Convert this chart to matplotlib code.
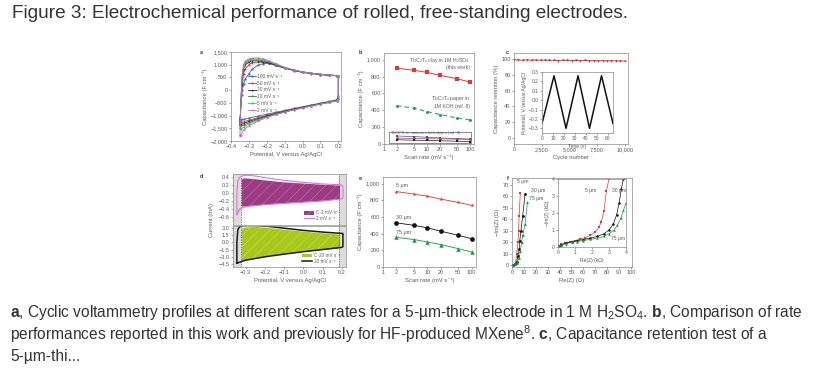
import numpy as np
import matplotlib.pyplot as plt
from matplotlib.lines import Line2D
from matplotlib.patches import Patch, Rectangle

plt.rcParams['font.family'] = ['Liberation Sans', 'DejaVu Sans']
plt.rcParams['mathtext.fontset'] = 'custom'
plt.rcParams['mathtext.rm'] = 'Liberation Sans'
plt.rcParams['mathtext.it'] = 'Liberation Sans:italic'
plt.rcParams['mathtext.bf'] = 'Liberation Sans:bold'
plt.rcParams['mathtext.default'] = 'regular'
plt.rcParams['hatch.linewidth'] = 0.3

W, H = 837, 370
GREY = '#5c5c5c'
FS = 4.0

# ---- panel a: CV at several scan rates (F cm-3 vs V)
a_rates = ['100 mV s⁻¹', '50 mV s⁻¹', '20 mV s⁻¹', '10 mV s⁻¹', '5 mV s⁻¹', '2 mV s⁻¹']
a_colors = ['#2a63d8', '#f02a2a', '#222222', '#178a3a', '#2fd040', '#e050e0']
a_marks = ['s', 'o', '^', 'v', 'D', '<']
a_E_up = [-0.35, -0.34, -0.33, -0.32, -0.30, -0.28, -0.25, -0.22, -0.19, -0.15,
          -0.10, -0.05, 0.0, 0.05, 0.10, 0.15, 0.19, 0.20]
a_E_down = [0.20, 0.19, 0.15, 0.10, 0.05, 0.0, -0.05, -0.10, -0.15, -0.20,
            -0.25, -0.30, -0.33, -0.345, -0.35]
a_up = [
    [-1150, -200, 250, 450, 650, 830, 980, 1040, 1050, 970, 860, 770, 700, 650, 610, 580, 560, 540],
    [-1250, 0, 650, 850, 1000, 1080, 1100, 1090, 1060, 980, 870, 780, 705, 655, 615, 585, 565, 550],
    [-1350, 200, 850, 1000, 1100, 1150, 1150, 1120, 1080, 990, 875, 785, 710, 660, 620, 590, 570, 555],
    [-1400, 300, 900, 1050, 1150, 1190, 1190, 1160, 1110, 1010, 885, 790, 715, 662, 622, 592, 572, 556],
    [-1500, 400, 950, 1100, 1190, 1220, 1220, 1190, 1130, 1020, 890, 795, 718, 665, 625, 595, 575, 558],
    [-1800, 500, 1000, 1150, 1230, 1260, 1270, 1240, 1160, 1040, 900, 800, 720, 668, 628, 598, 578, 560],
]
a_down = [
    [-250, -380, -440, -510, -580, -650, -720, -800, -870, -950, -1020, -1100, -1150, -1160, -1150],
    [-300, -400, -460, -530, -600, -670, -745, -825, -900, -990, -1080, -1180, -1250, -1270, -1250],
    [-320, -410, -470, -540, -610, -680, -760, -840, -920, -1020, -1120, -1230, -1320, -1350, -1350],
    [-330, -415, -475, -545, -615, -690, -770, -850, -935, -1040, -1150, -1280, -1380, -1420, -1400],
    [-340, -420, -480, -550, -620, -695, -775, -860, -950, -1060, -1180, -1330, -1460, -1520, -1500],
    [-350, -425, -485, -555, -625, -700, -780, -870, -965, -1080, -1220, -1400, -1580, -1750, -1800],
]
a_yticks = [1500, 1000, 500, 0, -500, -1000, -1500, -2000]
a_ylabels = ['1,500', '1,000', '500', '0', '−500', '−1,000', '−1,500', '−2,000']
cv_xticks = [-0.4, -0.3, -0.2, -0.1, 0.0, 0.1, 0.2]
cv_xlabels = ['−0.4', '−0.3', '−0.2', '−0.1', '0.0', '0.1', '0.2']

# ---- panel b / e: rate performance
rates = [2, 5, 10, 20, 50, 100]
b_clay = [900, 875, 850, 815, 775, 735]
b_paper = [455, 425, 385, 350, 310, 285]
b_ref_blue = [95, 88, 80, 72, 65, 58]
b_ref_red = [70, 66, 62, 60, 58, 55]
b_ref_black = [50, 45, 42, 38, 33, 28]
e_5um = [905, 875, 850, 815, 775, 740]
e_30um = [530, 500, 470, 430, 380, 340]
e_75um = [355, 330, 300, 270, 220, 180]
cap_yticks = [0, 200, 400, 600, 800, 1000]
cap_ylabels = ['0', '200', '400', '600', '800', '1,000']
rate_xticks = [1, 2, 5, 10, 20, 50, 100]

# ---- panel c: retention + inset GCD
c_cycles = [0, 400, 800, 1200, 1600, 2000, 2400, 2800, 3200, 3600, 4000, 4400, 4800,
            5200, 5600, 6000, 6400, 6800, 7200, 7600, 8000, 8400, 8800, 9200, 9600, 10000]
c_retention = [99.5, 99.0, 98.8, 99.2, 98.6, 99.0, 98.7, 98.9, 98.5, 98.8, 98.4, 98.7, 98.5,
               98.3, 98.6, 98.2, 98.5, 98.1, 98.4, 98.0, 98.3, 97.9, 98.2, 97.8, 98.0, 97.6]
c_xticks = [0, 2500, 5000, 7500, 10000]
c_xlabels = ['0', '2,500', '5,000', '7,500', '10,000']
gcd_t = [0, 11, 22, 33, 43.5, 54.5, 65]
gcd_V = [-0.25, 0.26, -0.30, 0.26, -0.30, 0.26, -0.25]

# ---- panel d: capacitive contribution
d_fill_E = [-0.32, -0.30, -0.25, -0.20, -0.10, 0.0, 0.10, 0.19]
d_fill2_top = [0.36, 0.37, 0.35, 0.32, 0.27, 0.24, 0.21, 0.19]
d_fill2_bot = [-0.34, -0.33, -0.31, -0.29, -0.25, -0.22, -0.19, -0.16]
d_cv2_E = [-0.345, -0.345, -0.34, -0.33, -0.31, -0.29, -0.25, -0.20, -0.10, 0.0, 0.10, 0.19,
           0.20, 0.205, 0.205, 0.20, 0.10, 0.0, -0.10, -0.20, -0.30, -0.33, -0.345]
d_cv2_I = [-0.54, 0.0, 0.30, 0.40, 0.44, 0.45, 0.43, 0.39, 0.32, 0.27, 0.23, 0.21,
           0.20, 0.15, -0.12, -0.14, -0.20, -0.23, -0.26, -0.29, -0.34, -0.40, -0.54]
d_fill20_top = [2.75, 3.05, 3.15, 3.05, 2.6, 2.2, 1.85, 1.6]
d_fill20_bot = [-3.85, -3.6, -3.2, -2.9, -2.4, -2.0, -1.6, -1.25]
d_cv20_E = [-0.345, -0.345, -0.34, -0.33, -0.31, -0.28, -0.25, -0.20, -0.10, 0.0, 0.10, 0.19,
            0.205, 0.205, 0.20, 0.10, 0.0, -0.10, -0.20, -0.30, -0.33, -0.345]
d_cv20_I = [-4.3, 0.0, 2.6, 3.2, 3.45, 3.55, 3.5, 3.35, 2.9, 2.45, 2.1, 1.85,
            1.8, -0.9, -1.05, -1.5, -1.95, -2.45, -3.0, -3.7, -4.1, -4.3]
d_top_ticks = [0.4, 0.2, 0.0, -0.2, -0.4, -0.6]
d_top_labels = ['0.4', '0.2', '0.0', '−0.2', '−0.4', '−0.6']
d_bot_ticks = [3.0, 1.5, 0.0, -1.5, -3.0, -4.5]
d_bot_labels = ['3.0', '1.5', '0.0', '−1.5', '−3.0', '−4.5']

# ---- panel f: Nyquist
f_re_5 = [0.5, 1.5, 3.0, 4.0, 5.0, 5.5, 6.0, 7.0]
f_im_5 = [0.2, 0.6, 2.0, 10, 20, 30, 43, 63]
f_re_30 = [1.0, 2.5, 4.0, 5.0, 6.0, 6.5, 7.5, 9.0, 11.0]
f_im_30 = [0.3, 1.0, 3.0, 8.0, 14, 21, 30, 43, 62]
f_re_75 = [1.0, 2.5, 4.0, 6.0, 7.0, 8.0, 9.0, 11.0, 13.0]
f_im_75 = [0.2, 0.8, 2.0, 6.0, 12, 20, 26, 36, 55]
fi_re_5 = [0.05, 0.2, 0.4, 0.7, 1.0, 1.3, 1.6, 1.9, 2.2, 2.4, 2.55, 2.7, 2.85, 3.0]
fi_im_5 = [0.05, 0.15, 0.22, 0.3, 0.38, 0.46, 0.55, 0.68, 0.9, 1.15, 1.5, 2.1, 3.3, 4.0]
fi_re_30 = [0.05, 0.2, 0.5, 0.8, 1.1, 1.5, 1.9, 2.3, 2.7, 3.0, 3.25, 3.45, 3.6, 3.72, 3.85]
fi_im_30 = [0.05, 0.14, 0.24, 0.31, 0.37, 0.44, 0.52, 0.62, 0.78, 1.0, 1.35, 1.9, 2.6, 3.4, 4.0]
fi_re_75 = [0.05, 0.2, 0.5, 0.8, 1.1, 1.5, 1.9, 2.3, 2.7, 3.0, 3.3, 3.5, 3.7, 3.85, 4.0]
fi_im_75 = [0.04, 0.12, 0.2, 0.27, 0.32, 0.38, 0.45, 0.52, 0.62, 0.78, 1.0, 1.3, 1.7, 2.15, 2.6]

fig = plt.figure(figsize=(W / 100, H / 100), dpi=100)


def px(l, t, r, b):
    return [l / W, 1 - b / H, (r - l) / W, (b - t) / H]


def style(ax, fs=FS):
    for s in ax.spines.values():
        s.set_color('#8a8a8a')
        s.set_linewidth(0.5)
    ax.tick_params(labelsize=fs, colors=GREY, length=1.5, width=0.4, pad=1)


def labels(ax, xl, yl, fs=FS + 0.2):
    ax.set_xlabel(xl, fontsize=fs, color=GREY, labelpad=1.5)
    ax.set_ylabel(yl, fontsize=fs, color=GREY, labelpad=1.5)


def grey_legend(leg):
    for t in leg.get_texts():
        t.set_color(GREY)


# ---------- a
ax = fig.add_axes(px(231, 52, 341, 141))
style(ax)
for i in range(len(a_rates)):
    ax.plot(a_E_up + a_E_down, a_up[i] + a_down[i], color=a_colors[i], marker=a_marks[i],
            ms=1.4, lw=0.6, mew=0, label=a_rates[i])
ax.set_xlim(-0.4, 0.215)
ax.set_ylim(-2000, 1500)
ax.set_yticks(a_yticks, a_ylabels)
ax.set_xticks(cv_xticks, cv_xlabels)
labels(ax, 'Potential, V versus Ag/AgCl', 'Capacitance (F cm⁻³)')
grey_legend(ax.legend(loc='upper left', bbox_to_anchor=(0.13, 0.78), frameon=False, fontsize=3.5,
                      handlelength=1.6, labelspacing=0.35, handletextpad=0.4, borderpad=0))

# ---------- b
ax = fig.add_axes(px(384, 53, 474, 144))
style(ax)
ax.set_xscale('log')
ax.plot(rates, b_clay, color='#f03030', marker='s', ms=2.2, lw=0.7, mew=0)
ax.plot(rates, b_paper, color='#1faa50', marker='o', ms=2.2, lw=0.8, ls=(0, (4, 3)), mew=0)
ax.plot(rates, b_ref_blue, color='#2050d0', marker='s', ms=2, lw=0.5, mew=0)
ax.plot(rates, b_ref_red, color='#e03030', marker='o', ms=2, lw=0.5, mew=0)
ax.plot(rates, b_ref_black, color='#202020', marker='s', ms=2, lw=0.5, mew=0)
ax.add_patch(Rectangle((1.32, 8), 108 - 1.32, 135, fill=False, lw=0.4, ec='#333333'))
ax.text(100, 1050, 'Ti$_3$C$_2$T$_x$ clay in 1M H$_2$SO$_4$\n(this work)', ha='right', va='top',
        fontsize=3.7, color=GREY, linespacing=1.15)
ax.text(100, 590, 'Ti$_3$C$_2$T$_x$ paper in\n1M KOH (ref. 8)', ha='right', va='top',
        fontsize=3.7, color=GREY, linespacing=1.15)
ax.text(1.4, 182, 'Ti$_3$C$_2$T$_x$ in various electrolytes (ref. 8)', ha='left', va='top',
        fontsize=3.1, color=GREY)
ax.set_xlim(1, 125)
ax.set_ylim(0, 1080)
ax.set_yticks(cap_yticks, cap_ylabels)
ax.set_xticks(rate_xticks, [str(v) for v in rate_xticks])
ax.minorticks_off()
labels(ax, 'Scan rate (mV s⁻¹)', 'Capacitance (F cm⁻³)')

# ---------- c
ax = fig.add_axes(px(514, 53, 628, 144))
style(ax)
ax.plot(c_cycles, c_retention, color='#f02020', marker='v', ms=1.8, lw=0.6, mew=0)
ax.set_xlim(0, 10300)
ax.set_ylim(-8, 108)
ax.set_yticks([0, 20, 40, 60, 80, 100])
ax.set_xticks(c_xticks, c_xlabels)
labels(ax, 'Cycle number', 'Capacitance retention (%)')
ax = fig.add_axes(px(542, 72, 613, 133))
style(ax, 3.5)
ax.plot(gcd_t, gcd_V, color='#111111', lw=1.1)
ax.set_xlim(0, 65)
ax.set_ylim(-0.35, 0.3)
ax.set_xticks([0, 10, 20, 30, 40, 50, 60])
ax.set_yticks([-0.3, -0.2, -0.1, 0.0, 0.1, 0.2, 0.3],
              ['−0.3', '−0.2', '−0.1', '0.0', '0.1', '0.2', '0.3'])
labels(ax, 'Time (s)', 'Potential, V versus Ag/AgCl', 3.6)

# ---------- d
axt = fig.add_axes(px(233, 174, 346, 225))
axb = fig.add_axes(px(233, 226, 346, 267))
for ax in (axt, axb):
    style(ax)
    ax.axvspan(-0.37, -0.325, color='#dcdcdc', lw=0, zorder=0)
    ax.axvspan(0.187, 0.23, color='#dcdcdc', lw=0, zorder=0)
    ax.axvline(-0.325, color='#555555', lw=0.5, ls=(0, (2, 1.5)))
    ax.axvline(0.187, color='#555555', lw=0.5, ls=(0, (2, 1.5)))
    ax.set_xlim(-0.365, 0.221)
axt.fill_between(d_fill_E, d_fill2_bot, d_fill2_top, facecolor='#9c3a83', edgecolor='#c98ab8',
                 hatch='///', lw=0)
axt.plot(d_cv2_E, d_cv2_I, color='#e070d8', lw=0.8)
axt.set_ylim(-0.8, 0.48)
axt.set_yticks(d_top_ticks, d_top_labels)
axt.set_xticks([])
h2 = [Patch(facecolor='#9c3a83', edgecolor='#c98ab8', hatch='///', lw=0),
      Line2D([], [], color='#e070d8', lw=0.8)]
grey_legend(axt.legend(h2, ['C-2 mV s⁻¹', '2 mV s⁻¹'], loc='lower right',
                       bbox_to_anchor=(0.97, 0.03), frameon=False, fontsize=3.4,
                       handlelength=2.2, handleheight=0.9, labelspacing=0.15,
                       handletextpad=0.4, borderpad=0))
axb.fill_between(d_fill_E, d_fill20_bot, d_fill20_top, facecolor='#a8c81c', edgecolor='#cfe27a',
                 hatch='///', lw=0)
axb.plot(d_cv20_E, d_cv20_I, color='#1a1a1a', lw=1.1)
axb.set_ylim(-5.1, 3.35)
axb.set_yticks(d_bot_ticks, d_bot_labels)
axb.set_xticks(cv_xticks[1:], cv_xlabels[1:])
axb.set_xlabel('Potential, V versus Ag/AgCl', fontsize=FS + 0.2, color=GREY, labelpad=1.5)
h20 = [Patch(facecolor='#a8c81c', edgecolor='#cfe27a', hatch='///', lw=0),
       Line2D([], [], color='#1a1a1a', lw=1.1)]
grey_legend(axb.legend(h20, ['C-20 mV s⁻¹', '20 mV s⁻¹'], loc='lower right',
                       bbox_to_anchor=(0.97, 0.02), frameon=False, fontsize=3.4,
                       handlelength=2.2, handleheight=0.9, labelspacing=0.15,
                       handletextpad=0.4, borderpad=0))
fig.text(212 / W, 1 - 220 / H, 'Current (mA)', rotation=90, fontsize=FS + 0.2, color=GREY,
         ha='center', va='center')

# ---------- e
ax = fig.add_axes(px(383, 177, 476, 267))
style(ax)
ax.set_xscale('log')
ax.plot(rates, e_5um, color='#f03030', marker='*', ms=3, lw=0.6, mew=0)
ax.plot(rates, e_30um, color='#111111', marker='o', ms=3.4, lw=0.6, mew=0)
ax.plot(rates, e_75um, color='#139a3c', marker='^', ms=3.2, lw=0.6, mew=0)
ax.text(2, 950, '5 μm', fontsize=3.9, color=GREY, va='bottom')
ax.text(2, 570, '30 μm', fontsize=3.9, color=GREY, va='bottom')
ax.text(2, 380, '75 μm', fontsize=3.9, color=GREY, va='bottom')
ax.set_xlim(1, 125)
ax.set_ylim(0, 1080)
ax.set_yticks(cap_yticks, cap_ylabels)
ax.set_xticks(rate_xticks, [str(v) for v in rate_xticks])
ax.minorticks_off()
labels(ax, 'Scan rate (mV s⁻¹)', 'Capacitance (F cm⁻³)')

# ---------- f
ax = fig.add_axes(px(512, 178, 632, 267))
style(ax)
ax.plot(f_re_5, f_im_5, color='#f03030', marker='s', ms=1.8, lw=0.5, mew=0)
ax.plot(f_re_30, f_im_30, color='#111111', marker='o', ms=2, lw=0.5, mew=0)
ax.plot(f_re_75, f_im_75, color='#139a3c', marker='^', ms=2, lw=0.5, mew=0)
ax.text(4, 73, '5 μm', fontsize=3.7, color=GREY, va='center')
ax.text(16, 65, '30 μm', fontsize=3.7, color=GREY, va='center')
ax.text(14, 58, '75 μm', fontsize=3.7, color=GREY, va='center')
ax.set_xlim(0, 101)
ax.set_ylim(-1.5, 76)
ax.set_xticks(range(0, 101, 10))
ax.set_yticks(range(0, 71, 10))
labels(ax, 'Re(Z) (Ω)', '−Im(Z) (Ω)')
ax = fig.add_axes(px(558, 179, 626, 247))
style(ax, 3.6)
ax.plot(fi_re_5, fi_im_5, color='#f03030', marker='s', ms=1.6, lw=0.5, mew=0)
ax.plot(fi_re_30, fi_im_30, color='#111111', marker='o', ms=1.8, lw=0.5, mew=0)
ax.plot(fi_re_75, fi_im_75, color='#139a3c', marker='^', ms=1.8, lw=0.5, mew=0)
ax.text(2.25, 3.35, '5 μm', fontsize=3.6, color=GREY, va='center', ha='right')
ax.text(3.15, 3.3, '30 μm', fontsize=3.6, color=GREY, va='center')
ax.text(3.1, 0.5, '75 μm', fontsize=3.6, color=GREY, va='center')
ax.set_xlim(0, 4)
ax.set_ylim(0, 4)
ax.set_xticks([0, 1, 2, 3, 4])
ax.set_yticks([0, 1, 2, 3, 4])
labels(ax, 'Re(Z) (kΩ)', '−Im(Z) (kΩ)', 3.6)

# panel letters
for letter, x, y in [('a', 201, 52), ('b', 360, 52), ('c', 507, 52),
                     ('d', 201, 176), ('e', 360, 178), ('f', 508, 178)]:
    fig.text(x / W, 1 - y / H, letter, fontsize=4, weight='bold', color='#333333',
             ha='center', va='center')

# page title and caption
fig.text(12 / W, 1 - 14 / H, 'Figure 3: Electrochemical performance of rolled, free-standing electrodes.',
         fontsize=13.7, color='#333333', va='center')
caption = [
    r'$\mathbf{a}$, Cyclic voltammetry profiles at different scan rates for a 5-µm-thick electrode '
    r'in 1 M H$_2$SO$_4$. $\mathbf{b}$, Comparison of rate',
    r'performances reported in this work and previously for HF-produced MXene$^8$. '
    r'$\mathbf{c}$, Capacitance retention test of a',
    '5-µm-thi...',
]
for i, line in enumerate(caption):
    fig.text(10 / W, 1 - (313 + 21.5 * i) / H, line, fontsize=11.2, color='#333333', va='center')

fig.savefig('out.png', dpi=100)
